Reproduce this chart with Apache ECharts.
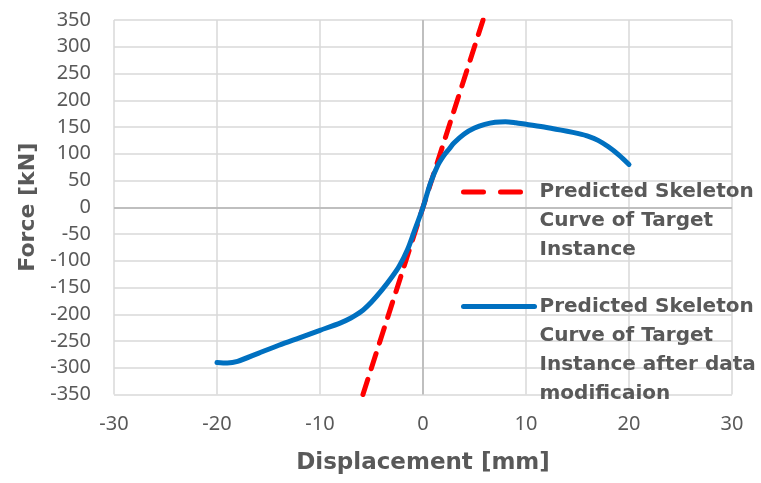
<!DOCTYPE html>
<html>
<head>
<meta charset="utf-8">
<script src="https://cdn.jsdelivr.net/npm/echarts@6/dist/echarts.min.js"></script>
<style>html,body{margin:0;padding:0;background:#fff;}#c{width:761px;height:483px;}</style>
</head>
<body>
<div id="c"></div>
<script>
var seriesNames = ['Predicted Skeleton Curve of Target Instance', 'Predicted Skeleton Curve of Target Instance after data modificaion'];
var legendLines = [
  ['Predicted Skeleton', 'Curve of Target', 'Instance'],
  ['Predicted Skeleton', 'Curve of Target', 'Instance after data', 'modificaion']
];
var predictedX = [-5.83, 0, 5.83];
var predictedY = [-350, 0, 350];
var modifiedX = [-20, -19, -18, -16, -14, -12, -10, -8, -7, -6, -5, -4, -3, -2.3, -1.5, -0.9, 0, 0.7, 1.4, 2, 2.5, 3, 4, 5, 6, 7, 8, 9, 10, 12, 14, 15, 16, 17, 18, 19, 20];
var modifiedY = [-290, -291, -288, -273, -258, -244, -230, -216, -207, -195, -177, -155, -130, -110, -79, -48, 0, 44, 77, 96, 108, 120, 137, 148, 155, 159, 160, 158, 155, 149, 142, 138, 133, 125, 113, 98, 80];
var xTicks = {min: -30, max: 30, interval: 10};
var yTicks = {min: -350, max: 350, interval: 50};

function zip(a, b) { return a.map(function (v, i) { return [v, b[i]]; }); }

var grey = '#595959';
var titleFont = 'DejaVu Sans';
var LH = 29;
function legendText(lines) {
  // a blank spacer line on top so the first text line sits level with the icon
  return '{pad| }\n' + lines.map(function (l) { return '{t|' + l + '}'; }).join('\n');
}
function legendRich(n) {
  return {
    pad: {lineHeight: LH * (n - 1), fontSize: 1},
    t: {fontFamily: titleFont, fontWeight: 'bold', fontSize: 20, lineHeight: LH, color: grey}
  };
}
var chart = echarts.init(document.getElementById('c'), null, {renderer: 'canvas'});
chart.setOption({
  animation: false,
  backgroundColor: '#ffffff',
  grid: {left: 114, right: 29, top: 20, bottom: 88.5, containLabel: false},
  xAxis: {
    type: 'value', min: xTicks.min, max: xTicks.max, interval: xTicks.interval,
    name: 'Displacement [mm]', nameLocation: 'middle', nameGap: 57,
    nameTextStyle: {fontFamily: titleFont, fontWeight: 'bold', fontSize: 23, color: grey},
    axisLine: {show: false}, axisTick: {show: false},
    axisLabel: {margin: 20, fontFamily: 'Noto Sans', fontSize: 20, color: grey},
    splitLine: {show: true, lineStyle: {color: '#d9d9d9', width: 1.5}}
  },
  yAxis: {
    type: 'value', min: yTicks.min, max: yTicks.max, interval: yTicks.interval,
    name: 'Force [kN]', nameLocation: 'middle', nameGap: 73,
    nameTextStyle: {fontFamily: titleFont, fontWeight: 'bold', fontSize: 22, color: grey},
    axisLine: {show: false}, axisTick: {show: false},
    axisLabel: {margin: 23, fontFamily: 'Noto Sans', fontSize: 20, color: grey},
    splitLine: {show: true, lineStyle: {color: '#d9d9d9', width: 1.5}}
  },
  legend: [
    {
      data: [seriesNames[0]], orient: 'vertical', left: 461, top: 148, padding: 0,
      itemWidth: 71, itemHeight: 14,
      itemStyle: {opacity: 0},
      lineStyle: {width: 5, type: [20, 17], cap: 'round', color: '#ff0000'},
      formatter: function () { return legendText(legendLines[0]); },
      textStyle: {rich: legendRich(3)}
    },
    {
      data: [seriesNames[1]], orient: 'vertical', left: 461, top: 248, padding: 0,
      itemWidth: 71, itemHeight: 14,
      itemStyle: {opacity: 0},
      lineStyle: {width: 5, cap: 'round', color: '#0070c0'},
      formatter: function () { return legendText(legendLines[1]); },
      textStyle: {rich: legendRich(4)}
    }
  ],
  series: [
    {
      name: seriesNames[0], type: 'line', data: zip(predictedX, predictedY),
      symbol: 'none', silent: true, z: 3,
      lineStyle: {color: '#ff0000', width: 5, type: [16, 11], cap: 'round'},
      itemStyle: {color: '#ff0000'}
    },
    {
      name: seriesNames[1], type: 'line', data: zip(modifiedX, modifiedY),
      symbol: 'none', silent: true, smooth: 0.3, z: 4,
      lineStyle: {color: '#0070c0', width: 5, cap: 'round', join: 'round'},
      itemStyle: {color: '#0070c0'},
      markLine: {
        silent: true, symbol: 'none', label: {show: false}, z: 1,
        lineStyle: {color: '#bfbfbf', width: 2, type: 'solid'},
        data: [{xAxis: 0}, {yAxis: 0}]
      }
    }
  ]
});
</script>
</body>
</html>
